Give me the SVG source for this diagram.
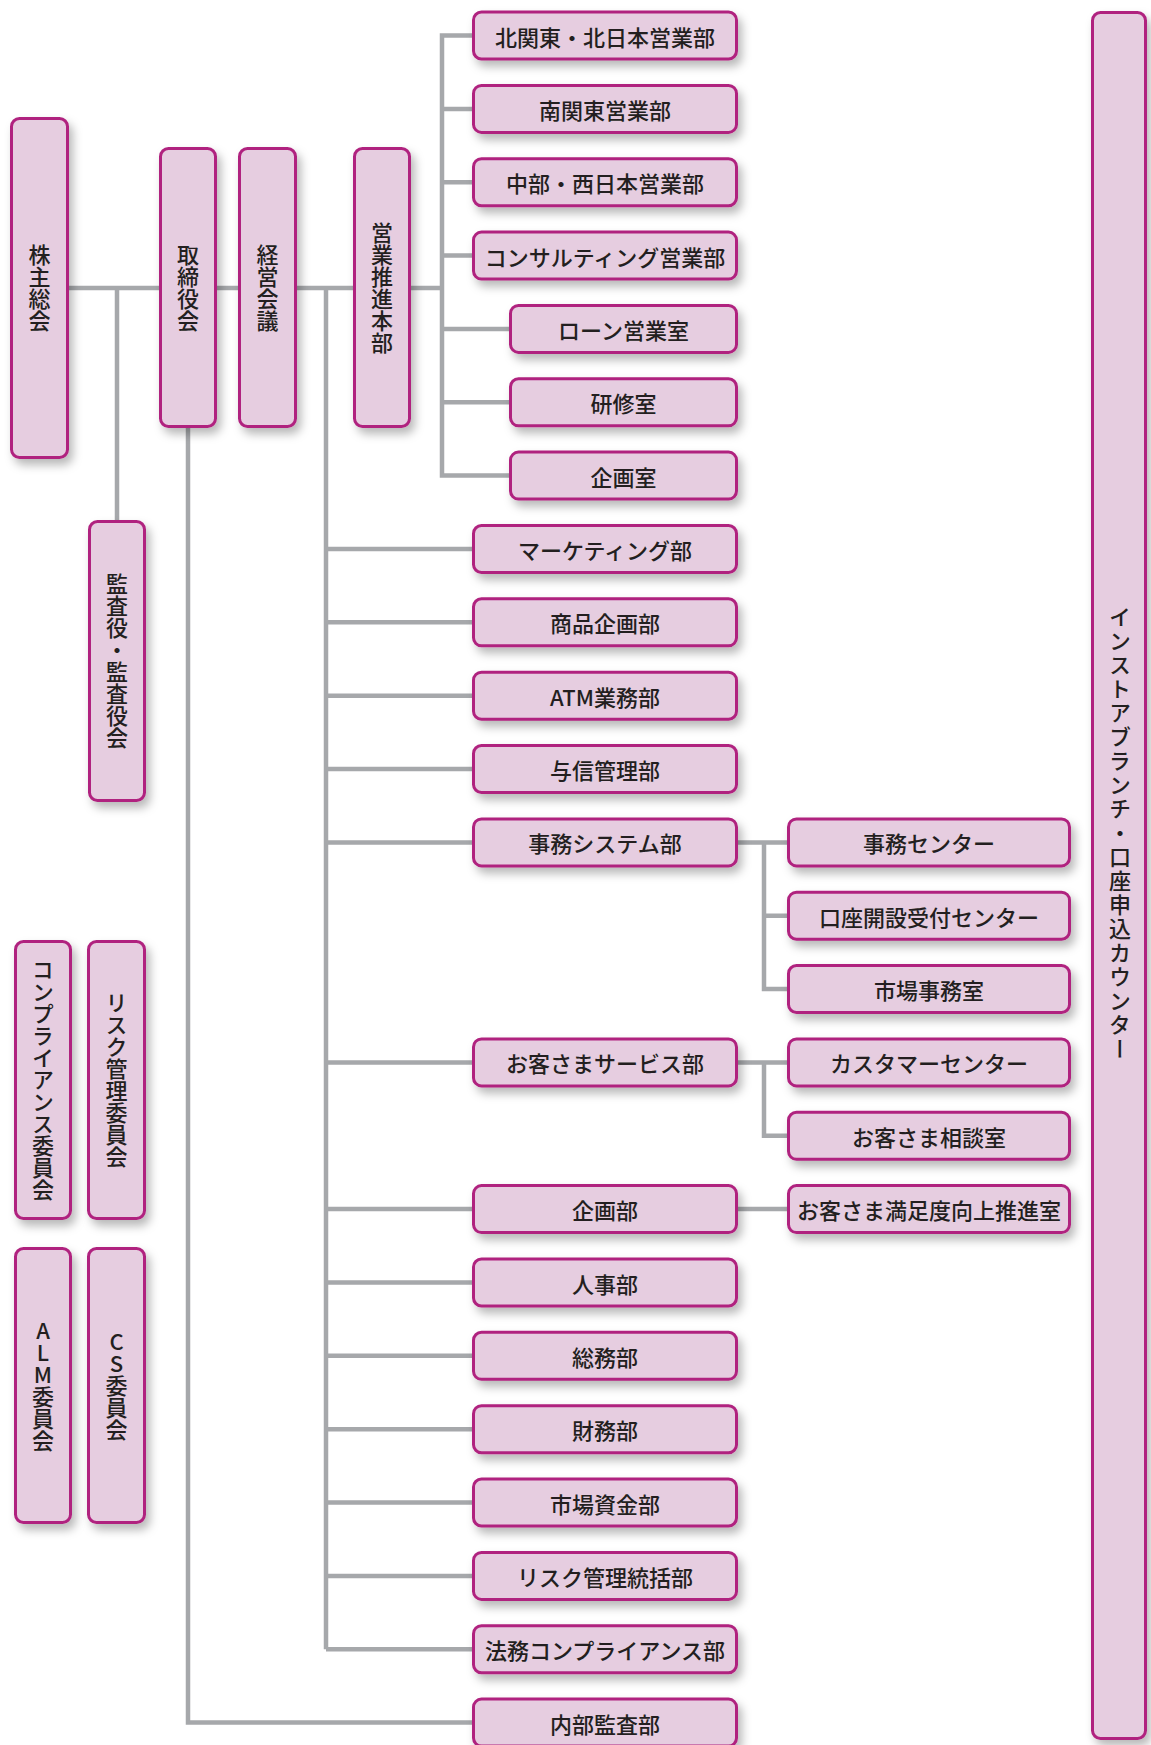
<svg xmlns="http://www.w3.org/2000/svg" width="1151" height="1745" viewBox="0 0 1151 1745">
<defs>
<filter id="sh" x="-30%" y="-30%" width="170%" height="170%">
<feDropShadow dx="4" dy="6" stdDeviation="5" flood-color="#000" flood-opacity="0.28"/>
</filter>
<style>
.b{fill:#E6CDE0;stroke:#B0237F;stroke-width:3;filter:url(#sh)}
.t{font-family:"Noto Sans CJK JP","Noto Sans",sans-serif;font-size:22px;font-weight:500;fill:#231F20;text-anchor:middle;dominant-baseline:central}
.v{font-family:"Noto Sans CJK JP","Noto Sans",sans-serif;font-size:22px;font-weight:500;fill:#231F20;text-anchor:middle;writing-mode:vertical-rl;text-orientation:upright}
.c{fill:none;stroke:#A6A8AB;stroke-width:4.5}
</style>
</defs>
<rect width="1151" height="1745" fill="#fff"/>
<g id="connectors">
<path class="c" d="M69 288H442M117 288V520M188 428V1722.6H472M326 288V1649.2"/>
<path class="c" d="M472 35.5H442V475.6H509M442 108.9H472M442 182.2H472M442 255.6H472M442 328.9H509M442 402.3H509"/>
<path class="c" d="M326 549H472M326 622.3H472M326 695.7H472M326 769H472M326 842.4H472M326 1062.4H472M326 1209.1H472M326 1282.5H472M326 1355.8H472M326 1429.2H472M326 1502.5H472M326 1575.9H472M326 1649.2H472"/>
<path class="c" d="M738 842.4H787M764 842.4V989H787M764 915.7H787M738 1062.4H787M764 1062.4V1135.8H787M738 1209.1H787"/>
</g>
<g id="n-kabunushi"><rect class="b" x="11.5" y="118.5" width="56" height="339" rx="8"/><text class="v" x="39.5" y="288">株主総会</text></g>
<g id="n-torishimari"><rect class="b" x="160.5" y="148.5" width="55" height="278" rx="8"/><text class="v" x="188" y="288">取締役会</text></g>
<g id="n-keiei"><rect class="b" x="239.5" y="148.5" width="56" height="278" rx="8"/><text class="v" x="267.5" y="288">経営会議</text></g>
<g id="n-eigyo"><rect class="b" x="354.5" y="148.5" width="55" height="278" rx="8"/><text class="v" x="382" y="288">営業推進本部</text></g>
<g id="n-kansa"><rect class="b" x="89.5" y="521.5" width="55" height="279" rx="8"/><text class="v" x="117" y="661">監査役・監査役会</text></g>
<g id="n-comp"><rect class="b" x="15.5" y="941.5" width="55" height="277" rx="8"/><text class="v" x="43" y="1080">コンプライアンス委員会</text></g>
<g id="n-risk"><rect class="b" x="88.5" y="941.5" width="56" height="277" rx="8"/><text class="v" x="116.5" y="1080">リスク管理委員会</text></g>
<g id="n-alm"><rect class="b" x="15.5" y="1248.5" width="55" height="274" rx="8"/><text class="v" x="43" y="1386">ALM委員会</text></g>
<g id="n-cs"><rect class="b" x="88.5" y="1248.5" width="56" height="274" rx="8"/><text class="v" x="116.5" y="1386">CS委員会</text></g>
<g id="n-instore"><rect class="b" x="1092.5" y="12.5" width="53" height="1726" rx="8"/><text class="v" x="1120" y="834" style="letter-spacing:2px">インストアブランチ・口座申込カウンター</text></g>
<g id="n-r0"><rect class="b" x="473.5" y="12" width="263" height="47" rx="8"/><text class="t" x="605" y="35.5">北関東・北日本営業部</text></g>
<g id="n-r1"><rect class="b" x="473.5" y="85.4" width="263" height="47" rx="8"/><text class="t" x="605" y="108.9">南関東営業部</text></g>
<g id="n-r2"><rect class="b" x="473.5" y="158.7" width="263" height="47" rx="8"/><text class="t" x="605" y="182.2">中部・西日本営業部</text></g>
<g id="n-r3"><rect class="b" x="473.5" y="232.1" width="263" height="47" rx="8"/><text class="t" x="605" y="255.6">コンサルティング営業部</text></g>
<g id="n-r4"><rect class="b" x="510.5" y="305.4" width="226" height="47" rx="8"/><text class="t" x="623.5" y="328.9">ローン営業室</text></g>
<g id="n-r5"><rect class="b" x="510.5" y="378.8" width="226" height="47" rx="8"/><text class="t" x="623.5" y="402.3">研修室</text></g>
<g id="n-r6"><rect class="b" x="510.5" y="452.1" width="226" height="47" rx="8"/><text class="t" x="623.5" y="475.6">企画室</text></g>
<g id="n-r7"><rect class="b" x="473.5" y="525.5" width="263" height="47" rx="8"/><text class="t" x="605" y="549">マーケティング部</text></g>
<g id="n-r8"><rect class="b" x="473.5" y="598.8" width="263" height="47" rx="8"/><text class="t" x="605" y="622.3">商品企画部</text></g>
<g id="n-r9"><rect class="b" x="473.5" y="672.2" width="263" height="47" rx="8"/><text class="t" x="605" y="695.7">ATM業務部</text></g>
<g id="n-r10"><rect class="b" x="473.5" y="745.5" width="263" height="47" rx="8"/><text class="t" x="605" y="769">与信管理部</text></g>
<g id="n-r11"><rect class="b" x="473.5" y="818.9" width="263" height="47" rx="8"/><text class="t" x="605" y="842.4">事務システム部</text></g>
<g id="n-s11"><rect class="b" x="788.5" y="818.9" width="281" height="47" rx="8"/><text class="t" x="929" y="842.4">事務センター</text></g>
<g id="n-s12"><rect class="b" x="788.5" y="892.2" width="281" height="47" rx="8"/><text class="t" x="929" y="915.7">口座開設受付センター</text></g>
<g id="n-s13"><rect class="b" x="788.5" y="965.5" width="281" height="47" rx="8"/><text class="t" x="929" y="989">市場事務室</text></g>
<g id="n-r14"><rect class="b" x="473.5" y="1038.9" width="263" height="47" rx="8"/><text class="t" x="605" y="1062.4">お客さまサービス部</text></g>
<g id="n-s14"><rect class="b" x="788.5" y="1038.9" width="281" height="47" rx="8"/><text class="t" x="929" y="1062.4">カスタマーセンター</text></g>
<g id="n-s15"><rect class="b" x="788.5" y="1112.3" width="281" height="47" rx="8"/><text class="t" x="929" y="1135.8">お客さま相談室</text></g>
<g id="n-r16"><rect class="b" x="473.5" y="1185.6" width="263" height="47" rx="8"/><text class="t" x="605" y="1209.1">企画部</text></g>
<g id="n-s16"><rect class="b" x="788.5" y="1185.6" width="281" height="47" rx="8"/><text class="t" x="929" y="1209.1">お客さま満足度向上推進室</text></g>
<g id="n-r17"><rect class="b" x="473.5" y="1259" width="263" height="47" rx="8"/><text class="t" x="605" y="1282.5">人事部</text></g>
<g id="n-r18"><rect class="b" x="473.5" y="1332.3" width="263" height="47" rx="8"/><text class="t" x="605" y="1355.8">総務部</text></g>
<g id="n-r19"><rect class="b" x="473.5" y="1405.7" width="263" height="47" rx="8"/><text class="t" x="605" y="1429.2">財務部</text></g>
<g id="n-r20"><rect class="b" x="473.5" y="1479" width="263" height="47" rx="8"/><text class="t" x="605" y="1502.5">市場資金部</text></g>
<g id="n-r21"><rect class="b" x="473.5" y="1552.4" width="263" height="47" rx="8"/><text class="t" x="605" y="1575.9">リスク管理統括部</text></g>
<g id="n-r22"><rect class="b" x="473.5" y="1625.7" width="263" height="47" rx="8"/><text class="t" x="605" y="1649.2">法務コンプライアンス部</text></g>
<g id="n-r23"><rect class="b" x="473.5" y="1699.1" width="263" height="47" rx="8"/><text class="t" x="605" y="1722.6">内部監査部</text></g>
</svg>
